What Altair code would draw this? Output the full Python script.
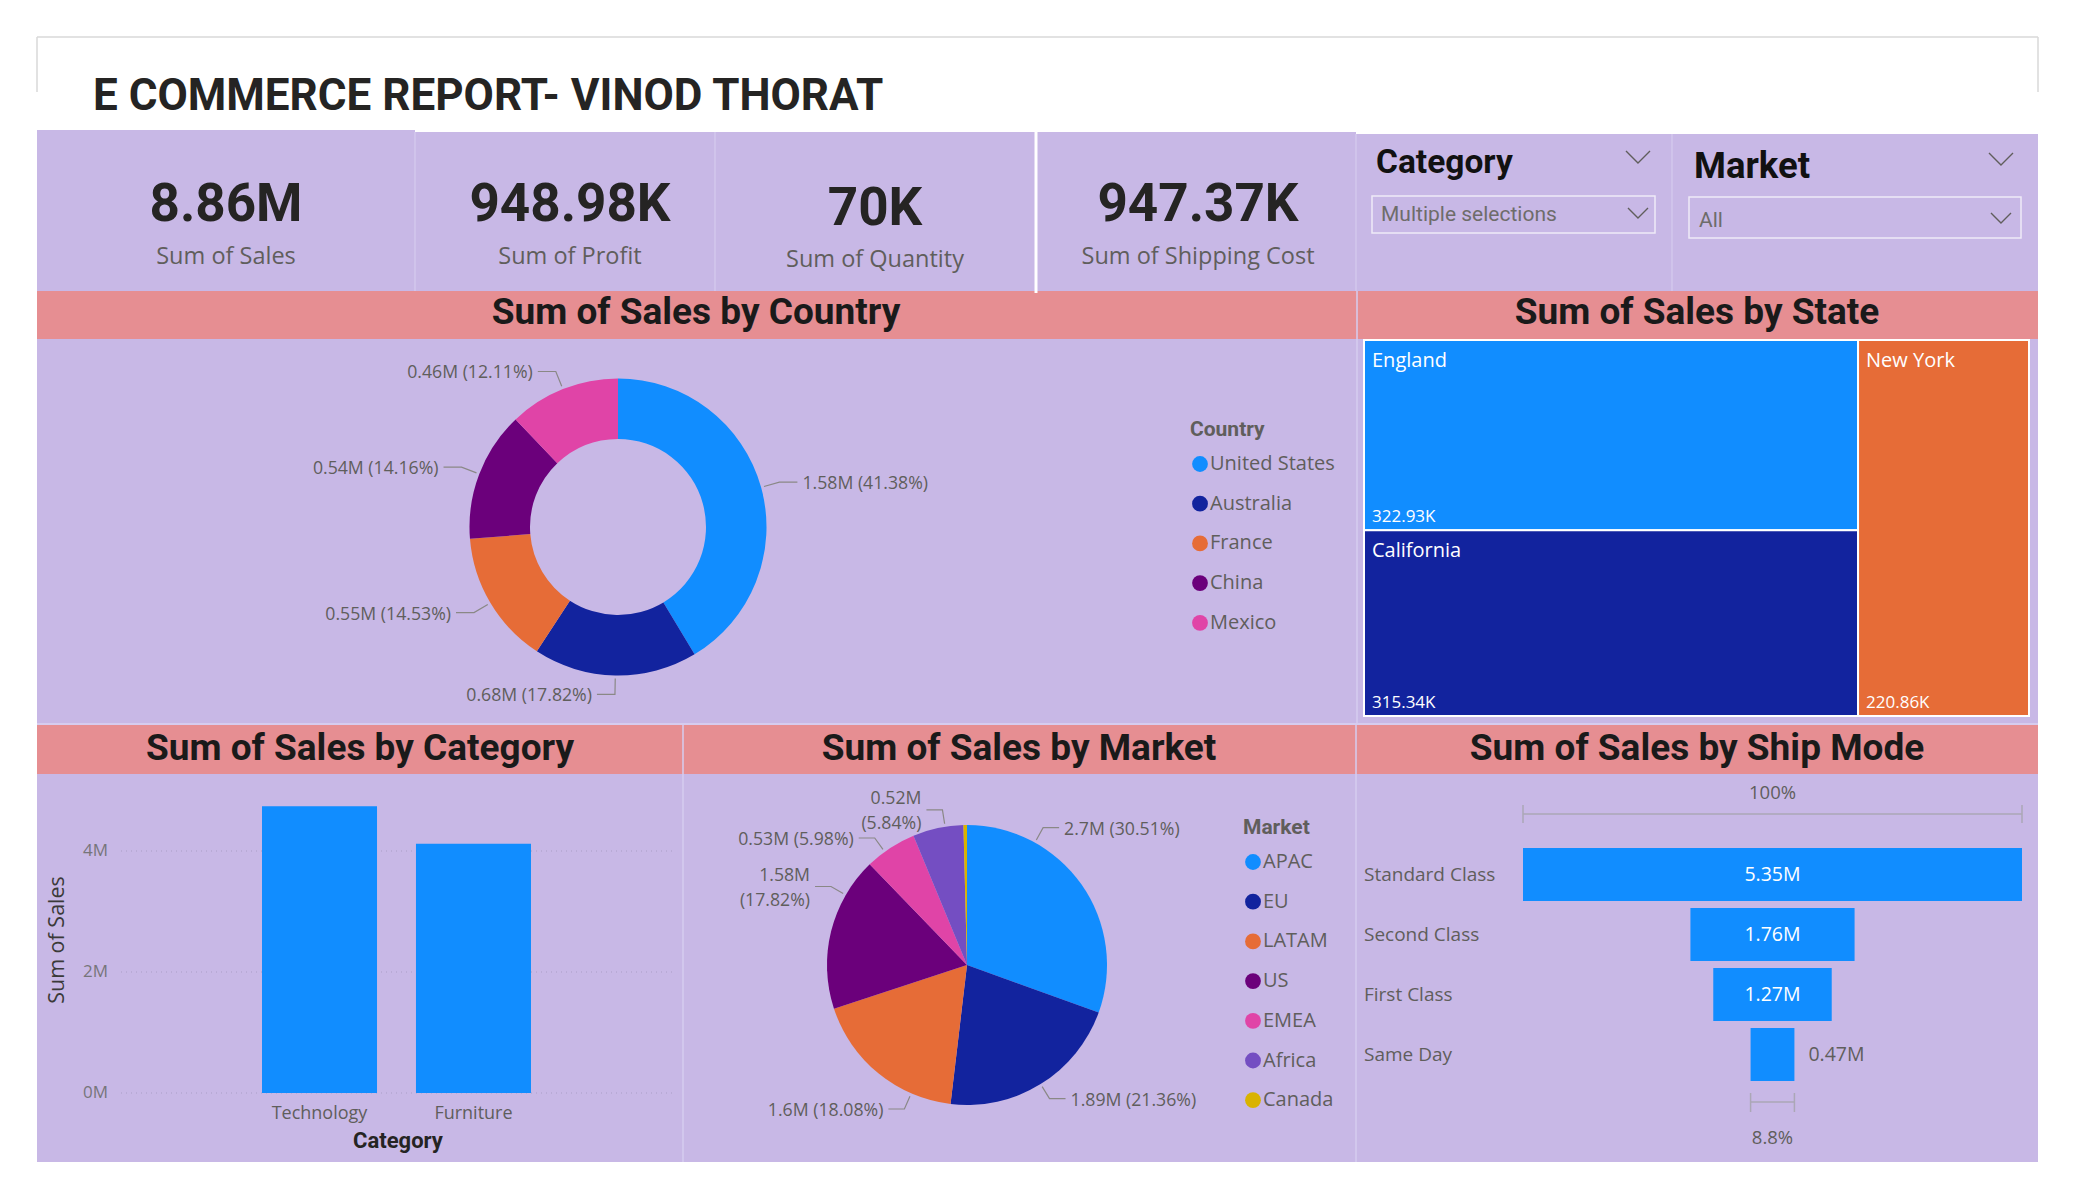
import altair as alt
import numpy as np
import pandas as pd

W, H = 2075, 1200

# ---------------- values ----------------
report_title = "E COMMERCE REPORT- VINOD THORAT"
kpi_values = ["8.86M", "948.98K", "70K", "947.37K"]
kpi_labels = ["Sum of Sales", "Sum of Profit", "Sum of Quantity", "Sum of Shipping Cost"]
slicer_titles = ["Category", "Market"]
slicer_values = ["Multiple selections", "All"]
panel_titles = ["Sum of Sales by Country", "Sum of Sales by State",
                "Sum of Sales by Category", "Sum of Sales by Market",
                "Sum of Sales by Ship Mode"]

countries = ["United States", "Australia", "France", "China", "Mexico"]
country_sales = [1.5800, 0.6805, 0.5548, 0.5407, 0.4624]          # millions

states = ["England", "California", "New York"]
state_sales = [322.93, 315.34, 220.86]                              # thousands

categories = ["Technology", "Furniture"]
category_sales = [4.74, 4.12]                                       # millions
category_ticks = [0, 2, 4]

markets = ["APAC", "EU", "LATAM", "US", "EMEA", "Africa", "Canada"]
market_sales = [2.702, 1.892, 1.601, 1.578, 0.530, 0.517, 0.036]    # millions

ship_modes = ["Standard Class", "Second Class", "First Class", "Same Day"]
ship_sales = [5.35, 1.76, 1.27, 0.47]                               # millions

# ---------------- styles ----------------
PALETTE = ["#118DFF", "#12239E", "#E66C37", "#6B007B", "#E044A7", "#744EC2", "#D9B300"]
LAV = "#C8B8E6"
PINK = "#E68E92"
FAINT = "#D6CCEF"
DARK = "#252423"
GREY = "#605E5C"
DIN = "Roboto, Liberation Sans, sans-serif"
SEG = "Open Sans, Noto Sans, sans-serif"


def PX(f):
    return alt.X(f, scale=None, axis=None)


def PY(f):
    return alt.Y(f, scale=None, axis=None)


def px_text(rows, font, size, weight="normal", color=DARK, align="left",
            baseline="alphabetic", angle=0):
    df = pd.DataFrame(rows, columns=["x", "y", "text"])
    kw = dict(font=font, fontSize=size, fontWeight=weight, color=color,
              align=align, baseline=baseline)
    if angle:
        kw["angle"] = angle
    return alt.Chart(df).mark_text(**kw).encode(x=PX("x:Q"), y=PY("y:Q"), text="text:N")


layers = []

# ---------------- page backgrounds (layout) ----------------
bg = pd.DataFrame([
    dict(x=37, x2=2038, y=130, y2=1162, c=LAV),
    dict(x=415, x2=1356, y=129, y2=132, c="#FFFFFF"),
    dict(x=1356, x2=2038, y=129, y2=134, c="#FFFFFF"),
    dict(x=37, x2=2038, y=291, y2=339, c=PINK),
    dict(x=37, x2=2038, y=725, y2=774, c=PINK),
])
layers.append(alt.Chart(bg).mark_rect().encode(
    x=PX("x:Q"), x2="x2:Q", y=PY("y:Q"), y2="y2:Q", color=alt.Color("c:N", scale=None)))

rules = pd.DataFrame([
    dict(x=37, x2=2038, y=37, y2=37, c="#D9D9D9", w=1.5),
    dict(x=37, x2=37, y=37, y2=92, c="#D9D9D9", w=1.5),
    dict(x=2038, x2=2038, y=37, y2=92, c="#D9D9D9", w=1.5),
    dict(x=1036, x2=1036, y=132, y2=293, c="#FFFFFF", w=3),
    dict(x=415, x2=415, y=132, y2=291, c=FAINT, w=1.2),
    dict(x=715, x2=715, y=132, y2=291, c=FAINT, w=1.2),
    dict(x=1356, x2=1356, y=134, y2=291, c=FAINT, w=1.2),
    dict(x=1672, x2=1672, y=134, y2=291, c=FAINT, w=1.2),
    dict(x=1357, x2=1357, y=291, y2=723, c=FAINT, w=1.5),
    dict(x=37, x2=2038, y=724, y2=724, c=FAINT, w=2),
    dict(x=683, x2=683, y=725, y2=1162, c=FAINT, w=1.5),
    dict(x=1356, x2=1356, y=725, y2=1162, c=FAINT, w=1.5),
])
layers.append(alt.Chart(rules).mark_rule().encode(
    x=PX("x:Q"), x2="x2:Q", y=PY("y:Q"), y2="y2:Q",
    color=alt.Color("c:N", scale=None), strokeWidth=alt.StrokeWidth("w:Q", scale=None)))

# slicer dropdown boxes and chevrons
boxes = pd.DataFrame([dict(x=1372, x2=1655, y=196, y2=233), dict(x=1689, x2=2021, y=197, y2=238)])
layers.append(alt.Chart(boxes).mark_rect(fillOpacity=0, stroke="#EEEAF7", strokeWidth=1.5).encode(
    x=PX("x:Q"), x2="x2:Q", y=PY("y:Q"), y2="y2:Q"))
chev = []
for g, (cx, cy, hw, hh) in enumerate([(1638, 157, 12, 6), (2001, 159, 12, 6),
                                      (1638, 213, 10, 5), (2001, 218, 10, 5)]):
    for k, (dx, dy) in enumerate([(-hw, -hh), (0, hh), (hw, -hh)]):
        chev.append(dict(g=g, k=k, x=cx + dx, y=cy + dy))
layers.append(alt.Chart(pd.DataFrame(chev)).mark_line(color=GREY, strokeWidth=1.4).encode(
    x=PX("x:Q"), y=PY("y:Q"), detail="g:N", order="k:Q"))

# ---------------- titles and KPI cards ----------------
layers.append(px_text([(93, 110, report_title)], DIN, 44, "bold", DARK))
kpi_x = [226, 570, 875, 1198]
kpi_vy = [221, 221, 225, 221]
kpi_ly = [264, 264, 267, 264]
layers.append(px_text(list(zip(kpi_x, kpi_vy, kpi_values)), DIN, 53, "bold", DARK, "center"))
layers.append(px_text(list(zip(kpi_x, kpi_ly, kpi_labels)), SEG, 23.5, "normal", GREY, "center"))
layers.append(px_text([(1376, 173, slicer_titles[0])], DIN, 33.5, "bold", "#111111"))
layers.append(px_text([(1694, 178, slicer_titles[1])], DIN, 36.5, "bold", "#111111"))
layers.append(px_text([(1381, 221, slicer_values[0]), (1699, 227, slicer_values[1])],
                      DIN, 21, "normal", "#6E6C6A"))
layers.append(px_text([(696, 324, panel_titles[0]), (1697, 324, panel_titles[1]),
                       (360, 760, panel_titles[2]), (1019, 760, panel_titles[3]),
                       (1697, 760, panel_titles[4])], DIN, 37, "bold", "#1A1A1A", "center"))


# ---------------- pie / donut helpers ----------------
LINE_H = 25


def pie_annotations(values, cx, cy, R, angles=None, wrap=None, show=None,
                    r1=3, r2=17, hlen=16, gap=5):
    tot = float(sum(values))
    cum = np.concatenate([[0.0], np.cumsum(values)])
    labels, lines = [], []
    for i, v in enumerate(values):
        if show is not None and not show[i]:
            continue
        mid = (cum[i] + cum[i + 1]) / 2 / tot * 360
        ang = angles[i] if (angles is not None and angles[i] is not None) else mid
        a = np.radians(ang)
        s, c = np.sin(a), np.cos(a)
        p1 = (cx + (R + r1) * s, cy - (R + r1) * c)
        p2 = (cx + (R + r2) * s, cy - (R + r2) * c)
        side = 1 if s >= 0 else -1
        p3 = (p2[0] + side * hlen, p2[1])
        for k, p in enumerate([p1, p2, p3]):
            lines.append(dict(g=i, k=k, x=p[0], y=p[1]))
        val = f"{v:.2f}".rstrip("0").rstrip(".") + "M"
        pct = f"({v / tot * 100:.2f}%)"
        wrapped = wrap is not None and wrap[i]
        sep = "\n" if wrapped else " "
        ty = p3[1] + 2 - (LINE_H / 2 if wrapped else 0)
        labels.append(dict(x=p3[0] + side * gap, y=ty, text=val + sep + pct,
                           side="left" if side > 0 else "right"))
    return pd.DataFrame(labels), pd.DataFrame(lines)


def label_layers(lab, lin):
    out = [alt.Chart(lin).mark_line(color="#8A8886", strokeWidth=1.2).encode(
        x=PX("x:Q"), y=PY("y:Q"), detail="g:N", order="k:Q")]
    for side in ["left", "right"]:
        sub = lab[lab.side == side]
        if len(sub):
            out.append(alt.Chart(sub).mark_text(
                font=SEG, fontSize=17.7, color=GREY, align=side, baseline="middle",
                lineBreak="\n", lineHeight=LINE_H).encode(x=PX("x:Q"), y=PY("y:Q"), text="text:N"))
    return out


def legend(title, x, y):
    return alt.Legend(orient="none", legendX=x, legendY=y, direction="vertical", title=title,
                      titleFont=DIN, titleFontSize=21, titleFontWeight="bold", titleColor=GREY,
                      labelFont=SEG, labelFontSize=20, labelColor=GREY, symbolType="circle",
                      symbolSize=250, symbolStrokeWidth=0, rowPadding=19.7, titlePadding=14,
                      labelOffset=0, padding=0)


# ---------------- Sum of Sales by Country (donut) ----------------
cdf = pd.DataFrame({"country": countries, "sales": country_sales, "ord": range(len(countries))})
DCX, DCY, DR, DR2 = 618, 527, 148.5, 88
layers.append(alt.Chart(cdf).mark_arc(radius=DR, radius2=DR2).encode(
    theta=alt.Theta("sales:Q", stack=True),
    order=alt.Order("ord:Q"),
    color=alt.Color("country:N", scale=alt.Scale(domain=countries, range=PALETTE[:5]),
                    legend=legend("Country", 1190, 419)),
    x=alt.value(DCX), y=alt.value(DCY)))
lab, lin = pie_annotations(country_sales, DCX, DCY, DR, r1=3, r2=19, hlen=18)
layers += label_layers(lab, lin)

# ---------------- Sum of Sales by State (treemap) ----------------
tm_column = [0, 0, 1]   # which column of the treemap each tile sits in
tdf = pd.DataFrame({"state": states, "sales": state_sales, "col": tm_column})
col_tot = tdf.groupby("col")["sales"].sum()
col_start = col_tot.cumsum() - col_tot
tdf["x0"] = tdf["col"].map(col_start)
tdf["x1"] = tdf["x0"] + tdf["col"].map(col_tot)
tdf["y1"] = tdf.groupby("col")["sales"].cumsum() / tdf["col"].map(col_tot)
tdf["y0"] = tdf["y1"] - tdf["sales"] / tdf["col"].map(col_tot)
tdf["val"] = tdf["sales"].map(lambda v: f"{v:.2f}K")
TX = alt.Scale(domain=[0, float(sum(state_sales))], range=[1364, 2029], nice=False, zero=False)
TY = alt.Scale(domain=[0, 1], range=[340, 716], nice=False, zero=False)
layers.append(alt.Chart(tdf).mark_rect(stroke="white", strokeWidth=2).encode(
    x=alt.X("x0:Q", scale=TX, axis=None), x2="x1:Q",
    y=alt.Y("y0:Q", scale=TY, axis=None), y2="y1:Q",
    color=alt.Color("state:N", scale=alt.Scale(domain=states, range=PALETTE[:3]), legend=None)))
layers.append(alt.Chart(tdf).mark_text(font=SEG, fontSize=20, color="white", align="left",
                                       baseline="alphabetic", dx=8, dy=27).encode(
    x=alt.X("x0:Q", scale=TX, axis=None), y=alt.Y("y0:Q", scale=TY, axis=None), text="state:N"))
layers.append(alt.Chart(tdf).mark_text(font=SEG, fontSize=17, color="white", align="left",
                                       baseline="alphabetic", dx=8, dy=-8).encode(
    x=alt.X("x0:Q", scale=TX, axis=None), y=alt.Y("y1:Q", scale=TY, axis=None), text="val:N"))

# ---------------- Sum of Sales by Category (columns) ----------------
bdf = pd.DataFrame({"category": categories, "sales": category_sales})
BX = alt.Scale(type="band", domain=categories, range=[262, 531], paddingInner=0.253, paddingOuter=0)
BY = alt.Scale(domain=[0, 5], range=[1093, 790.5], nice=False, zero=True)
tdf2 = pd.DataFrame({"tick": category_ticks, "lbl": [f"{t}M" for t in category_ticks]})
layers.append(alt.Chart(tdf2).mark_rule(color="#A99DC6", strokeDash=[1, 4], strokeWidth=1.2).encode(
    y=alt.Y("tick:Q", scale=BY, axis=None), x=alt.value(121), x2=alt.value(672)))
layers.append(alt.Chart(tdf2).mark_text(font=SEG, fontSize=17, color="#77757A", align="right",
                                        baseline="middle").encode(
    y=alt.Y("tick:Q", scale=BY, axis=None), x=alt.value(108), text="lbl:N"))
layers.append(alt.Chart(bdf).mark_bar(color="#118DFF").encode(
    x=alt.X("category:N", scale=BX, axis=None), y=alt.Y("sales:Q", scale=BY, axis=None)))
layers.append(alt.Chart(bdf).mark_text(font=SEG, fontSize=18, color=GREY, baseline="alphabetic").encode(
    x=alt.X("category:N", scale=BX, axis=None), y=alt.value(1119), text="category:N"))
layers.append(px_text([(58, 940, "Sum of Sales")], SEG, 21.5, "normal", "#3B3A39", "center", "middle", 270))
layers.append(px_text([(398, 1141, "Category")], DIN, 22, "bold", DARK, "center", "middle"))

# ---------------- Sum of Sales by Market (pie) ----------------
mdf = pd.DataFrame({"market": markets, "sales": market_sales, "ord": range(len(markets))})
MCX, MCY, MR = 967, 965, 140
layers.append(alt.Chart(mdf).mark_arc(radius=MR).encode(
    theta=alt.Theta("sales:Q", stack=True),
    order=alt.Order("ord:Q"),
    color=alt.Color("market:N", scale=alt.Scale(domain=markets, range=PALETTE[:7]),
                    legend=legend("Market", 1243, 817)),
    x=alt.value(MCX), y=alt.value(MCY)))
market_label_angle = [29, None, 203.5, 300, 324, 351, None]   # label placement (layout)
market_label_wrap = [False, False, False, True, False, True, False]
market_label_show = [True, True, True, True, True, True, False]
lab, lin = pie_annotations(market_sales, MCX, MCY, MR, angles=market_label_angle,
                           wrap=market_label_wrap, show=market_label_show, r1=3, r2=17, hlen=16)
layers += label_layers(lab, lin)

# ---------------- Sum of Sales by Ship Mode (funnel) ----------------
mx = max(ship_sales)
sdf = pd.DataFrame({"mode": ship_modes, "sales": ship_sales})
sdf["lo"] = -sdf["sales"] / 2
sdf["hi"] = sdf["sales"] / 2
sdf["zero"] = 0.0
sdf["lbl"] = sdf["sales"].map(lambda v: f"{v:.2f}".rstrip("0").rstrip(".") + "M")
sdf["inside"] = sdf["sales"] / mx >= 0.15
FX = alt.Scale(domain=[-mx / 2, mx / 2], range=[1523, 2022], nice=False, zero=False)
FY = alt.Scale(type="band", domain=ship_modes, range=[848, 1081], paddingInner=7 / 60, paddingOuter=0)
layers.append(alt.Chart(sdf).mark_bar(color="#118DFF").encode(
    x=alt.X("lo:Q", scale=FX, axis=None), x2="hi:Q", y=alt.Y("mode:N", scale=FY, axis=None)))
layers.append(alt.Chart(sdf[sdf.inside]).mark_text(font=SEG, fontSize=19.5, color="white",
                                                   baseline="middle").encode(
    x=alt.X("zero:Q", scale=FX, axis=None), y=alt.Y("mode:N", scale=FY, axis=None), text="lbl:N"))
layers.append(alt.Chart(sdf[~sdf.inside]).mark_text(font=SEG, fontSize=19.5, color=GREY, align="left",
                                                    baseline="middle", dx=14).encode(
    x=alt.X("hi:Q", scale=FX, axis=None), y=alt.Y("mode:N", scale=FY, axis=None), text="lbl:N"))
layers.append(alt.Chart(sdf).mark_text(font=SEG, fontSize=19, color=GREY, align="left",
                                       baseline="middle").encode(
    x=alt.value(1364), y=alt.Y("mode:N", scale=FY, axis=None), text="mode:N"))

first, last = ship_sales[0], ship_sales[-1]
brk = pd.DataFrame({"lo": [-first / 2, -last / 2], "hi": [first / 2, last / 2], "pos": ["top", "bottom"]})
ends = pd.DataFrame({"xv": [-first / 2, first / 2, -last / 2, last / 2],
                     "pos": ["top", "top", "bottom", "bottom"]})
BRC = "#ABA7B6"
for pos, yl, yt0, yt1, ytxt, txt in [("top", 814, 805, 823, 793, f"{first / first * 100:.0f}%"),
                                     ("bottom", 1102, 1093, 1112, 1138, f"{last / first * 100:.1f}%")]:
    layers.append(alt.Chart(brk[brk.pos == pos]).mark_rule(color=BRC, strokeWidth=1.5).encode(
        x=alt.X("lo:Q", scale=FX, axis=None), x2="hi:Q", y=alt.value(yl)))
    layers.append(alt.Chart(ends[ends.pos == pos]).mark_rule(color=BRC, strokeWidth=1.5).encode(
        x=alt.X("xv:Q", scale=FX, axis=None), y=alt.value(yt0), y2=alt.value(yt1)))
    layers.append(alt.Chart(pd.DataFrame({"z": [0.0], "t": [txt]})).mark_text(
        font=SEG, fontSize=18.5, color=GREY, baseline="middle").encode(
        x=alt.X("z:Q", scale=FX, axis=None), y=alt.value(ytxt), text="t:N"))

chart = alt.layer(*layers).resolve_scale(
    x="independent", y="independent", color="independent", theta="independent"
).properties(
    width=W, height=H, padding=0, background="white",
    autosize=alt.AutoSizeParams(type="none")
).configure_view(strokeWidth=0)

chart.save("out.html", embed_options={"renderer": "svg", "actions": False})
